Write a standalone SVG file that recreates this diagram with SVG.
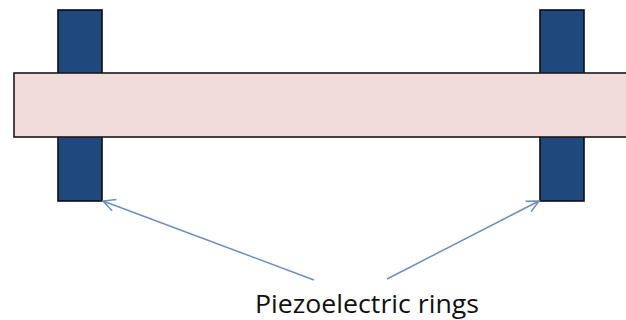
<svg xmlns="http://www.w3.org/2000/svg" width="626" height="320" viewBox="0 0 626 320">
<style>
.ring{fill:#1f497d;stroke:#0c0c14;stroke-width:1.6}
.beam{fill:#f2dcdb;stroke:#1a1a1a;stroke-width:1.6}
.arrow{fill:none;stroke:#6a8fbf;stroke-width:1.5}
text{font-family:"Open Sans","Noto Sans",sans-serif;font-size:25px;fill:#111}
</style>
<defs><marker id="a" markerUnits="userSpaceOnUse" markerWidth="18" markerHeight="18" refX="14" refY="8" orient="auto"><path d="M2 2L14 8L2 14" fill="none" stroke="#6a8fbf" stroke-width="1.5"/></marker></defs>
<rect width="626" height="320" fill="#fff"/>
<g id="ring-left"><rect class="ring" x="58" y="10" width="44" height="191"/></g>
<g id="ring-right"><rect class="ring" x="540" y="10" width="44" height="191"/></g>
<g id="beam"><rect class="beam" x="14" y="73" width="616" height="64"/></g>
<g id="connectors">
<line class="arrow" x1="314" y1="280" x2="103" y2="201" marker-end="url(#a)"/>
<line class="arrow" x1="387" y1="279" x2="539" y2="201" marker-end="url(#a)"/>
</g>
<g id="label"><text x="255" y="312.5" textLength="224" lengthAdjust="spacingAndGlyphs">Piezoelectric rings</text></g>
</svg>
